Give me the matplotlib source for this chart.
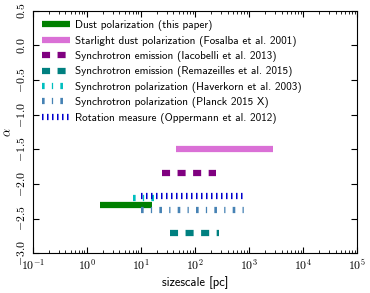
import matplotlib
matplotlib.use('Agg')
import matplotlib.pyplot as plt
from matplotlib.ticker import FuncFormatter
import numpy as np

plt.rcParams['font.family'] = ['cmss10', 'DejaVu Sans']
plt.rcParams['mathtext.fontset'] = 'cm'
plt.rcParams['axes.unicode_minus'] = False
plt.rcParams['lines.scale_dashes'] = False

# size ranges [pc] and spectral index of each measurement
labels = ['Dust polarization (this paper)',
          'Starlight dust polarization (Fosalba et al. 2001)',
          'Synchrotron emission (Iacobelli et al. 2013)',
          'Synchrotron emission (Remazeilles et al. 2015)',
          'Synchrotron polarization (Haverkorn et al. 2003)',
          'Synchrotron polarization (Planck 2015 X)',
          'Rotation measure (Oppermann et al. 2012)']
smin = [1.75, 44, 25, 35, 7, 10, 10]
smax = [16, 2800, 250, 275, 18, 800, 880]
alpha = [-2.30, -1.50, -1.84, -2.70, -2.20, -2.38, -2.17]

colors = ['green', 'orchid', 'purple', 'teal', 'c', 'steelblue', 'mediumblue']
dashes = [None, None, (5.8, 5.4), (5.8, 5.4),
          (1.9, 5.2, 0.9, 5.2), (1.9, 5.2, 0.9, 5.2), (1.1, 2.5)]


def yfmt(v, p):
    s = r'\mathsf{%.1f}' % abs(v)
    return '$-' + s + '$' if v < -1e-9 else '$' + s + '$'


def xfmt(v, p):
    e = int(round(np.log10(v)))
    ex = r'-\mathsf{%d}' % -e if e < 0 else r'\mathsf{%d}' % e
    return r'$\mathsf{10}^{' + ex + '}$'


fig = plt.figure(figsize=(3.7, 2.93), dpi=100)
ax = fig.add_axes([0.089, 0.1355, 0.876, 0.828])

for i in range(len(labels)):
    if dashes[i] is None:
        ax.plot([smin[i], smax[i]], [alpha[i], alpha[i]], color=colors[i], lw=4.5,
                solid_capstyle='butt', label=labels[i])
    else:
        ax.plot([smin[i], smax[i]], [alpha[i], alpha[i]], color=colors[i], lw=4.5,
                dashes=dashes[i], dash_capstyle='butt', label=labels[i])

ax.set_xscale('log')
ax.set_xlim(0.1, 1e5)
ax.set_ylim(-3.0, 0.5)
ax.set_yticks(np.arange(-3.0, 0.51, 0.5))
ax.yaxis.set_major_formatter(FuncFormatter(yfmt))
ax.xaxis.set_major_formatter(FuncFormatter(xfmt))
ax.set_xlabel('sizescale [pc]', fontsize=9, labelpad=2)
ax.set_ylabel(r'$\alpha$', fontsize=9)
ax.yaxis.set_label_coords(-0.056, 0.5)
ax.tick_params(which='both', direction='in', top=True, right=True, labelsize=8.5)
ax.tick_params(which='major', length=4)
ax.tick_params(which='minor', length=2)
ax.tick_params(axis='y', labelrotation=90)
for t in ax.get_yticklabels():
    t.set_va('center')

ax.legend(loc='upper left', frameon=False, fontsize=8, handlelength=2.5,
          handletextpad=0.4, labelspacing=0.4, borderaxespad=0.45)

plt.savefig('out.png', dpi=100)
